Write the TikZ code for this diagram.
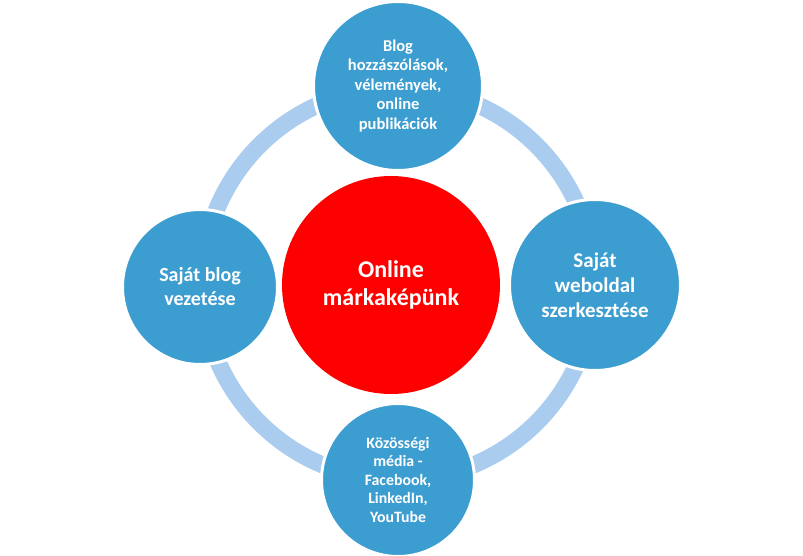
\documentclass[tikz,border=0pt]{standalone}
\usepackage{fontspec}
\setmainfont{Carlito}
\usepackage{xcolor}
\definecolor{itemblue}{RGB}{60,157,208}
\definecolor{ringblue}{RGB}{170,204,239}
\definecolor{hubred}{RGB}{255,0,0}
\tikzset{
  item/.style={circle, fill=itemblue, draw=white, line width=3pt, text=white,
    align=center, font=\bfseries\fontsize{16.5}{19.5}\selectfont, inner sep=0pt},
  hub/.style={circle, fill=hubred, text=white, align=center,
    font=\bfseries\fontsize{24}{28.5}\selectfont, inner sep=0pt},
  ring/.style={draw=ringblue, line width=17pt}
}
\begin{document}
\begin{tikzpicture}[x=1pt, y=-1pt]
  \useasboundingbox (0,0) rectangle (803,556);
  \coordinate (ringc) at (398,284);
  \draw[ring] (ringc) circle (196pt);
  \node[hub, minimum size=218pt] (hub) at (391,285) {Online\\márkaképünk};
  \node[item, minimum size=169pt] (blog) at (398,86)
    {Blog\\hozzászólások,\\vélemények,\\online\\publikációk};
  \node[item, minimum size=171pt, font=\bfseries\fontsize{21}{25}\selectfont] (web) at (595,285)
    {Saját\\weboldal\\szerkesztése};
  \node[item, minimum size=153pt, font=\bfseries\fontsize{15.8}{18.5}\selectfont] (social) at (398,480)
    {Közösségi\\média -\\Facebook,\\LinkedIn,\\YouTube};
  \node[item, minimum size=155pt, font=\bfseries\fontsize{20}{24}\selectfont] (own) at (200,287)
    {Saját blog\\vezetése};
\end{tikzpicture}
\end{document}
